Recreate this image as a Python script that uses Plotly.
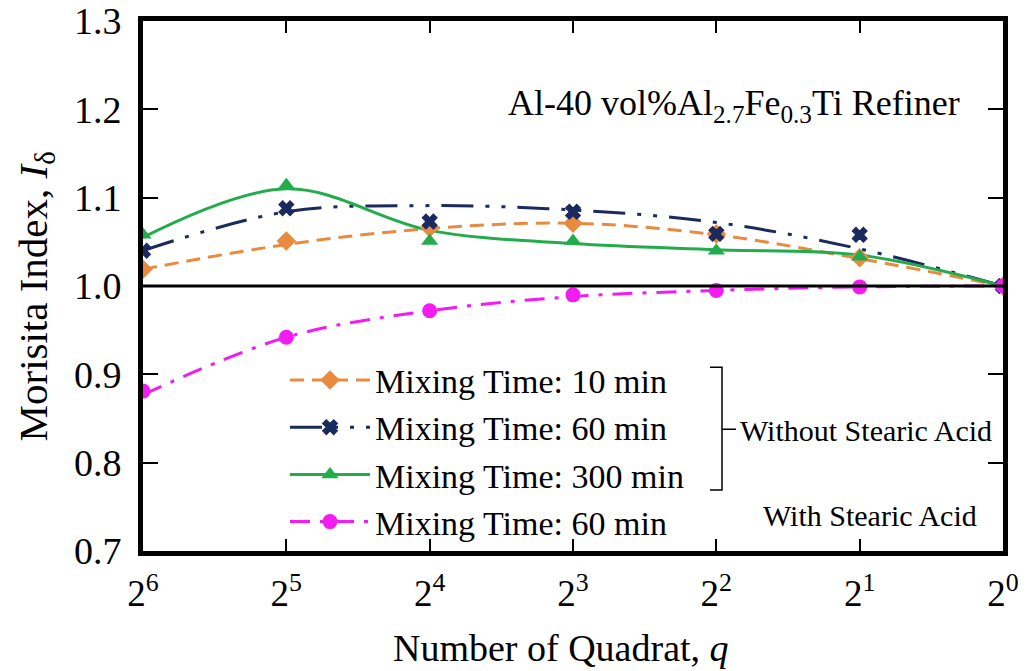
import plotly.graph_objects as go

# ---- data ----
q = [64, 32, 16, 8, 4, 2, 1]
q_ticktext = ["2<sup>6</sup>", "2<sup>5</sup>", "2<sup>4</sup>", "2<sup>3</sup>",
              "2<sup>2</sup>", "2<sup>1</sup>", "2<sup>0</sup>"]
y_ticks = [0.7, 0.8, 0.9, 1.0, 1.1, 1.2, 1.3]
y_ticktext = ["0.7", "0.8", "0.9", "1.0", "1.1", "1.2", "1.3"]

# measured points
t10_pts = [1.019, 1.051, 1.066, 1.071, 1.059, 1.032, 1.000]
t60_pts = [1.040, 1.088, 1.073, 1.084, 1.059, 1.058, 1.000]
t300_pts = [1.058, 1.114, 1.051, 1.051, 1.040, 1.033, 1.000]
sa60_pts = [0.881, 0.942, 0.972, 0.990, 0.995, 0.999, 1.000]

# fitted curves
t10_fit = [1.019, 1.047, 1.065, 1.071, 1.058, 1.031, 1.000]
t60_fit = [1.040, 1.084, 1.091, 1.086, 1.072, 1.042, 1.000]
t300_fit = [1.055, 1.110, 1.063, 1.048, 1.041, 1.035, 1.000]
sa60_fit = [0.877, 0.942, 0.972, 0.988, 0.995, 0.999, 1.000]

names = ["Mixing Time: 10 min", "Mixing Time: 60 min",
         "Mixing Time: 300 min", "Mixing Time: 60 min"]

C_OR = "#E98B3F"
C_NV = "#1B2A5E"
C_GR = "#22AC4C"
C_MG = "#F21BF2"

FONT = "Times New Roman, Liberation Serif, serif"

series = [
    (t10_pts, t10_fit, C_OR, "diamond", "14px,8px", 15, 0),
    (t60_pts, t60_fit, C_NV, "x", "32px,12px,4px,12px,4px,12px", 13, 1.2),
    (t300_pts, t300_fit, C_GR, "triangle-up", "solid", 15, 0),
    (sa60_pts, sa60_fit, C_MG, "circle", "20px,10px,4px,10px", 15, 0),
]

fig = go.Figure()

for pts, fit, col, sym, dash, msz, mlw in series:
    fig.add_trace(go.Scatter(x=q, y=fit, mode="lines",
                             line=dict(color=col, width=3, dash=dash, shape="spline", smoothing=1.0),
                             showlegend=False, hoverinfo="skip"))
for (pts, fit, col, sym, dash, msz, mlw), nm in zip(series, names):
    fig.add_trace(go.Scatter(x=q, y=pts, mode="markers",
                             marker=dict(color=col, symbol=sym, size=msz,
                                         line=dict(width=mlw, color=col)),
                             showlegend=False, name=nm))
for (pts, fit, col, sym, dash, msz, mlw), nm in zip(series, names):
    fig.add_trace(go.Scatter(x=[None], y=[None], mode="lines+markers", name=nm,
                             line=dict(color=col, width=3, dash=dash),
                             marker=dict(color=col, symbol=sym, size=msz,
                                         line=dict(width=mlw, color=col))))

def px_x(p):
    return (p - 143) / 860.0

def px_y(p):
    return (551 - p) / 531.0

# horizontal reference line at 1.0
fig.add_shape(type="line", xref="paper", yref="y", x0=0, x1=1, y0=1.0, y1=1.0,
              line=dict(color="black", width=3))

# bracket grouping the first three series
bx = px_x(722); bxl = px_x(710); bxr = px_x(736)
bt = px_y(367); bb = px_y(490); bm = px_y(429)
fig.add_shape(type="path", xref="paper", yref="paper",
              path=f"M {bxl} {bt} L {bx} {bt} L {bx} {bb} L {bxl} {bb}",
              line=dict(color="black", width=1.5))
fig.add_shape(type="line", xref="paper", yref="paper", x0=bx, x1=bxr, y0=bm, y1=bm,
              line=dict(color="black", width=1.5))

fig.add_annotation(xref="paper", yref="paper", x=px_x(738), y=px_y(430),
                   xanchor="left", yanchor="middle", showarrow=False,
                   text="Without Stearic Acid", font=dict(family=FONT, size=30, color="black"))
fig.add_annotation(xref="paper", yref="paper", x=px_x(870), y=px_y(515),
                   xanchor="center", yanchor="middle", showarrow=False,
                   text="With Stearic Acid", font=dict(family=FONT, size=30, color="black"))
fig.add_annotation(xref="paper", yref="paper", x=px_x(734), y=px_y(105),
                   xanchor="center", yanchor="middle", showarrow=False,
                   text="Al-40 vol%Al<sub>2.7</sub>Fe<sub>0.3</sub>Ti Refiner",
                   font=dict(family=FONT, size=36, color="black"))

# axis titles placed as annotations for exact positioning
fig.add_annotation(xref="paper", yref="paper", x=px_x(36), y=px_y(296),
                   xanchor="center", yanchor="middle", showarrow=False, textangle=-90,
                   text="Morisita Index, <i>I</i><sub>δ</sub>",
                   font=dict(family=FONT, size=41, color="black"))
fig.add_annotation(xref="paper", yref="paper", x=px_x(561), y=px_y(648),
                   xanchor="center", yanchor="middle", showarrow=False,
                   text="Number of Quadrat, <i>q</i>",
                   font=dict(family=FONT, size=38, color="black"))

fig.update_layout(
    width=1027, height=671,
    margin=dict(l=143, r=24, t=21, b=120),
    paper_bgcolor="white", plot_bgcolor="white",
    font=dict(family=FONT, color="black"),
    showlegend=True,
    legend=dict(x=px_x(285), y=px_y(351), xanchor="left", yanchor="top",
                bgcolor="rgba(0,0,0,0)", font=dict(family=FONT, size=34, color="black"),
                itemwidth=80, tracegroupgap=0),
    xaxis=dict(type="log", range=[1.80618, 0], tickvals=q, ticktext=q_ticktext,
               automargin=False, ticklabeloverflow="allow",
               showline=True, linewidth=5, linecolor="black", mirror="allticks",
               ticks="inside", ticklen=12, tickwidth=1.5, tickcolor="black",
               showgrid=False, zeroline=False,
               tickfont=dict(family=FONT, size=37, color="black"), ticklabelstandoff=6),
    yaxis=dict(range=[0.7, 1.3], tickvals=y_ticks, ticktext=y_ticktext,
               automargin=False, ticklabeloverflow="allow",
               showline=True, linewidth=5, linecolor="black", mirror="allticks",
               ticks="inside", ticklen=15, tickwidth=1.5, tickcolor="black",
               showgrid=False, zeroline=False,
               tickfont=dict(family=FONT, size=38, color="black"), ticklabelstandoff=9),
)

fig.write_html("out.html", post_script="document.body.style.margin='0px';",
               config={"displayModeBar": False})
